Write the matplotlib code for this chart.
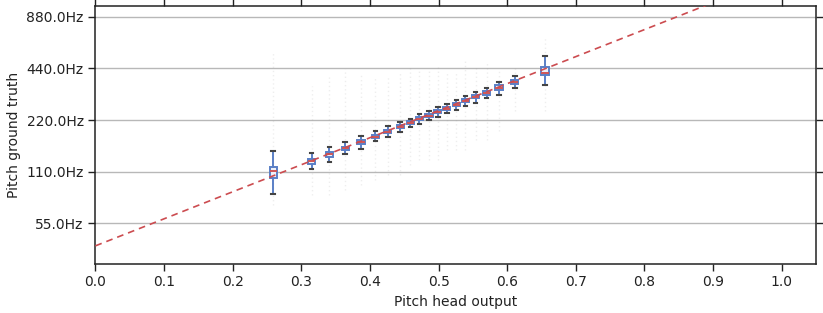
import matplotlib
matplotlib.use("Agg")
import matplotlib.pyplot as plt
from matplotlib.ticker import FixedLocator, FixedFormatter, NullLocator

# ---- data ----
positions = [0.259, 0.315, 0.341, 0.364, 0.387, 0.408, 0.426, 0.444, 0.459, 0.472,
             0.486, 0.499, 0.512, 0.526, 0.539, 0.554, 0.570, 0.588, 0.611, 0.655]
medians = [110.5, 126.8, 138.6, 150.7, 164.3, 176.4, 188.6, 200.8, 212.9, 223.8,
           233.9, 245.9, 256.7, 270.8, 285.6, 300.0, 316.5, 338.7, 368.4, 415.6]
q1 = [101.5, 122.3, 134.4, 146.8, 159.9, 172.8, 184.9, 196.9, 208.7, 219.3,
      229.1, 240.7, 251.5, 265.3, 279.9, 294.2, 310.1, 329.6, 358.7, 404.6]
q3 = [116.9, 130.9, 142.4, 154.2, 168.8, 180.0, 192.5, 205.0, 217.4, 228.2,
      238.5, 250.4, 261.9, 276.2, 291.5, 306.3, 323.0, 350.5, 378.5, 450.5]
whis_lo = [81.5, 113.8, 125.1, 139.2, 149.5, 165.6, 175.6, 186.7, 201.5, 210.0,
           218.8, 230.6, 242.3, 252.2, 264.6, 276.8, 296.2, 309.3, 340.2, 353.9]
whis_hi = [145.0, 141.0, 153.6, 163.4, 178.7, 189.8, 202.4, 215.0, 224.6, 238.0,
           249.7, 261.2, 273.2, 286.7, 303.9, 319.4, 338.7, 368.4, 399.0, 517.0]
flier_lo = [70.0, 80.1, 80.1, 85.7, 91.6, 97.9, 104.7, 104.7, 119.7, 128.0,
            128.0, 128.0, 146.3, 146.3, 146.3, 167.3, 167.3, 191.2, 249.7, 249.7]
flier_hi = [558.0, 349.6, 399.0, 438.5, 415.6, 399.0, 399.0, 427.0, 456.6, 427.0,
            427.0, 456.6, 427.0, 427.0, 488.0, 456.6, 488.0, 427.0, 456.6, 664.0]

ref_x = [0.0, 1.05]
ref_hz = [40.6, 1840.0]

ytick_hz = [55.0, 110.0, 220.0, 440.0, 880.0]
ytick_labels = ["%.1fHz" % v for v in ytick_hz]
xtick_vals = [0.0, 0.1, 0.2, 0.3, 0.4, 0.5, 0.6, 0.7, 0.8, 0.9, 1.0]

# ---- drawing ----
plt.rcParams['font.family'] = ['DejaVu Sans']
plt.rcParams['font.size'] = 10

fig = plt.figure(figsize=(8.23, 3.13), dpi=100)
ax = fig.add_axes([0.116, 0.158, 0.8755, 0.824])

ax.set_yscale('log', base=2)
ax.set_xlim(0.0, 1.05)
ax.set_ylim(32, 1024)

ax.yaxis.set_major_locator(FixedLocator(ytick_hz))
ax.yaxis.set_major_formatter(FixedFormatter(ytick_labels))
ax.yaxis.set_minor_locator(NullLocator())
ax.set_xticks(xtick_vals)
ax.set_xticklabels(["%.1f" % v for v in xtick_vals])

ax.grid(axis='y', color='#b8b8b8', linewidth=1.0, zorder=0)
ax.set_axisbelow(True)

# faint flier streaks
ax.vlines(positions, flier_lo, flier_hi, colors='#9a9a9a', alpha=0.16,
          linewidth=1.0, linestyles=(0, (1, 2)), zorder=1)

stats = []
for i in range(len(positions)):
    stats.append(dict(med=medians[i], q1=q1[i], q3=q3[i],
                      whislo=whis_lo[i], whishi=whis_hi[i], fliers=[]))

ax.bxp(stats, positions=positions, widths=0.0105, showfliers=False,
       manage_ticks=False, patch_artist=True,
       boxprops=dict(facecolor='#eef0f8', edgecolor='#5a7fc6', linewidth=1.4),
       whiskerprops=dict(color='#5a7fc6', linewidth=1.4),
       capprops=dict(color='#444444', linewidth=1.5),
       medianprops=dict(color='#d05555', linewidth=1.4))

ax.plot(ref_x, ref_hz, linestyle=(0, (4, 3)), color='#cc4c50', linewidth=1.2, zorder=5)

for s in ax.spines.values():
    s.set_color('#222222')
    s.set_linewidth(1.1)

ax.tick_params(axis='both', which='major', direction='out', length=5, width=1,
               color='#222222', labelcolor='#222222',
               top=True, right=True, labeltop=False, labelright=False)

ax.set_xlabel("Pitch head output", color='#222222')
ax.set_ylabel("Pitch ground truth", color='#222222')

fig.savefig("out.png", dpi=100)
